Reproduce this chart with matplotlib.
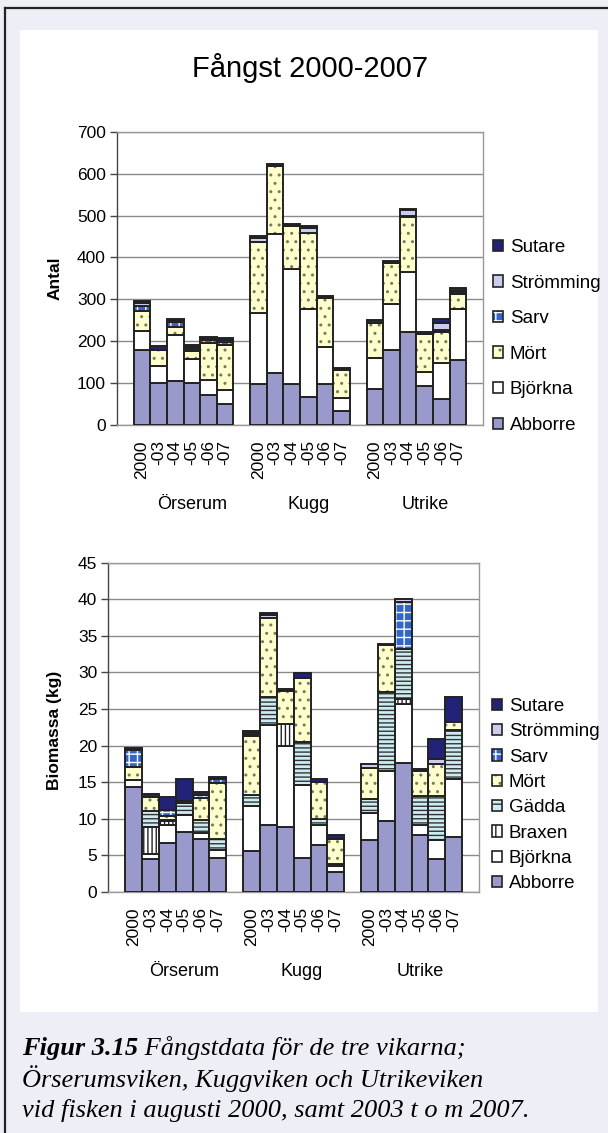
import numpy as np
import matplotlib
matplotlib.use('Agg')
import matplotlib.pyplot as plt
from matplotlib.patches import Patch, Rectangle
from matplotlib.lines import Line2D

plt.rcParams['font.family'] = ['Liberation Sans', 'DejaVu Sans']

sites = ['Örserum', 'Kugg', 'Utrike']
years = ['2000', '-03', '-04', '-05', '-06', '-07']

# Antal -- order: Örserum, Kugg, Utrike; each 2000, -03 .. -07
antal_abborre = [180, 101, 106, 101, 72, 50, 98, 125, 99, 67, 99, 34, 86, 180, 222, 93, 63, 155]
antal_bjorkna = [44, 40, 108, 57, 35, 33, 170, 330, 274, 210, 86, 30, 75, 108, 144, 34, 85, 123]
antal_mort = [48, 39, 19, 18, 89, 108, 168, 162, 101, 181, 117, 67, 83, 99, 130, 91, 73, 34]
antal_sarv = [12, 0, 14, 6, 7, 6, 0, 0, 0, 0, 0, 0, 0, 0, 3, 0, 5, 3]
antal_stromming = [6, 0, 2, 3, 3, 5, 10, 0, 0, 11, 0, 0, 0, 0, 14, 0, 18, 6]
antal_sutare = [6, 8, 4, 5, 4, 6, 5, 5, 5, 5, 5, 4, 6, 5, 3, 4, 8, 6]

# Biomassa (kg)
bio_abborre = [14.3, 4.5, 6.7, 8.2, 7.3, 4.6, 5.6, 9.2, 8.9, 4.6, 6.4, 2.8, 7.1, 9.75, 17.65, 7.8, 4.45, 7.55]
bio_bjorkna = [1.0, 0.7, 2.4, 2.3, 0.8, 1.2, 6.1, 13.6, 11.0, 10.0, 2.75, 0.8, 3.65, 6.85, 8.05, 1.3, 2.65, 7.95]
bio_braxen = [0, 3.7, 0.6, 0, 0, 0, 0, 0, 3.1, 0, 0, 0, 0, 0, 0.7, 0, 0, 0]
bio_gadda = [0, 2.2, 0.2, 1.6, 1.7, 1.4, 1.5, 3.9, 0, 5.9, 0.85, 0.2, 1.95, 10.7, 6.8, 4.0, 6.0, 6.7]
bio_mort = [1.8, 1.9, 0.5, 0, 3.1, 7.7, 8.1, 10.8, 4.5, 8.7, 5.1, 3.5, 4.3, 6.4, 0, 3.5, 4.4, 1.0]
bio_sarv = [2.3, 0, 0.8, 0, 0.4, 0.5, 0.3, 0, 0, 0, 0, 0, 0, 0, 6.45, 0, 0, 0]
bio_stromming = [0, 0, 0, 0.3, 0, 0, 0.3, 0.3, 0, 0, 0, 0, 0.5, 0, 0.35, 0, 0.7, 0]
bio_sutare = [0.3, 0.4, 1.8, 3.1, 0.3, 0.3, 0.1, 0.3, 0.3, 0.7, 0.4, 0.45, 0, 0.2, 0, 0.2, 2.7, 3.5]

W, H = 608, 1133
EDGE = '#222222'
LW = 1.4

# fill colour, hatch, hatch colour
styles = {
    'Abborre': dict(fc='#9999CC', hatch=None, hc=None),
    'Björkna': dict(fc='white', hatch=None, hc=None),
    'Braxen': dict(fc='white', hatch='||||', hc='#222222'),
    'Gädda': dict(fc='#CCECF2', hatch='----', hc='#333333'),
    'Mört': dict(fc='#FFFFCC', hatch='..', hc='#777766'),
    'Sarv': dict(fc='#3366CC', hatch='++', hc='white'),
    'Strömming': dict(fc='#CCCCEE', hatch=None, hc=None),
    'Sutare': dict(fc='#222277', hatch=None, hc=None),
}

xpos = np.array([g * 7 + j + 1.5 for g in range(3) for j in range(6)])


def fx(px):
    return px / W


def fy(py):
    return 1 - py / H


def draw_stack(ax, layers):
    bottom = np.zeros(len(xpos))
    for name, vals in layers:
        vals = np.array(vals, float)
        m = vals > 0
        st = styles[name]
        if st['hatch']:
            # fill + hatch in its own colour, outline drawn on top
            ax.bar(xpos[m], vals[m], 1.0, bottom=bottom[m], color=st['fc'],
                   edgecolor=st['hc'], linewidth=0, hatch=st['hatch'], zorder=3)
            ax.bar(xpos[m], vals[m], 1.0, bottom=bottom[m], facecolor='none',
                   edgecolor=EDGE, linewidth=LW, zorder=3)
        else:
            ax.bar(xpos[m], vals[m], 1.0, bottom=bottom[m], color=st['fc'],
                   edgecolor=EDGE, linewidth=LW, zorder=3)
        bottom += vals


def legend_handle(name):
    st = styles[name]
    if st['hatch']:
        return (Patch(facecolor=st['fc'], edgecolor=st['hc'], linewidth=0, hatch=st['hatch'][:2]),
                Patch(facecolor='none', edgecolor=EDGE, linewidth=1.2))
    return Patch(facecolor=st['fc'], edgecolor=EDGE, linewidth=1.2)


def style_axes(ax, ymax, ystep, label_y):
    ax.set_xlim(0, 22)
    ax.set_ylim(0, ymax)
    ax.set_yticks(np.arange(0, ymax + ystep, ystep))
    ax.set_xticks(xpos)
    ax.set_xticklabels(years * 3, rotation=90, fontsize=12.5)
    ax.tick_params(axis='x', length=0, pad=11)
    ax.tick_params(axis='y', length=5, width=1, color='#444444', labelsize=12.5, pad=3)
    ax.grid(axis='y', color='#8a8a8a', linewidth=1, zorder=0)
    ax.set_axisbelow(True)
    for s in ['top', 'right', 'bottom']:
        ax.spines[s].set_color('#999999')
        ax.spines[s].set_linewidth(1)
    ax.spines['left'].set_color('#444444')
    ax.spines['left'].set_linewidth(1)
    for g, site in enumerate(sites):
        ax.text(g * 7 + 4.5, label_y, site, transform=ax.get_xaxis_transform(),
                ha='center', va='center', fontsize=13)


fig = plt.figure(figsize=(W / 100, H / 100), dpi=100)
fig.patch.set_facecolor('#EEEEF6')

# white panel and the dark frame
fig.add_artist(Rectangle((fx(20), fy(1012)), fx(598) - fx(20), fy(30) - fy(1012),
                         transform=fig.transFigure, facecolor='white', edgecolor='none', zorder=0))
fig.add_artist(Line2D([fx(5), fx(5)], [fy(8), 0], transform=fig.transFigure, color='#222222', lw=1.6))
fig.add_artist(Line2D([fx(5), 1], [fy(8), fy(8)], transform=fig.transFigure, color='#222222', lw=1.6))

fig.text(fx(310), fy(68), 'Fångst 2000-2007', ha='center', va='center', fontsize=21)

# top chart: number of fish
ax1 = fig.add_axes([fx(117), fy(425), fx(483) - fx(117), fy(131.7) - fy(425)])
draw_stack(ax1, [('Abborre', antal_abborre), ('Björkna', antal_bjorkna), ('Mört', antal_mort),
                 ('Sarv', antal_sarv), ('Strömming', antal_stromming), ('Sutare', antal_sutare)])
style_axes(ax1, 700, 100, -0.272)
fig.text(fx(55), fy(278), 'Antal', rotation=90, ha='center', va='center', fontsize=12.5, weight='bold')

names1 = ['Sutare', 'Strömming', 'Sarv', 'Mört', 'Björkna', 'Abborre']
fig.legend([legend_handle(n) for n in names1], names1, loc='upper left',
           bbox_to_anchor=(fx(493), fy(239)), frameon=False, fontsize=13.5,
           handlelength=0.55, handleheight=0.55, handletextpad=0.35,
           labelspacing=0.99, borderpad=0, borderaxespad=0)

# bottom chart: biomass
ax2 = fig.add_axes([fx(108.4), fy(892), fx(479) - fx(108.4), fy(562.7) - fy(892)])
draw_stack(ax2, [('Abborre', bio_abborre), ('Björkna', bio_bjorkna), ('Braxen', bio_braxen),
                 ('Gädda', bio_gadda), ('Mört', bio_mort), ('Sarv', bio_sarv),
                 ('Strömming', bio_stromming), ('Sutare', bio_sutare)])
style_axes(ax2, 45, 5, -0.24)
fig.text(fx(55), fy(730), 'Biomassa (kg)', rotation=90, ha='center', va='center', fontsize=12.5, weight='bold')

names2 = ['Sutare', 'Strömming', 'Sarv', 'Mört', 'Gädda', 'Braxen', 'Björkna', 'Abborre']
fig.legend([legend_handle(n) for n in names2], names2, loc='upper left',
           bbox_to_anchor=(fx(492), fy(698)), frameon=False, fontsize=13.5,
           handlelength=0.55, handleheight=0.55, handletextpad=0.35,
           labelspacing=0.445, borderpad=0, borderaxespad=0)

# caption
cap = dict(family=['Liberation Serif', 'DejaVu Serif'], style='italic', fontsize=19)
t1 = fig.text(fx(22), fy(1048), 'Figur 3.15', weight='bold', va='center', **cap)
ax2.annotate(' Fångstdata för de tre vikarna;', xy=(1, 0), xycoords=t1, va='bottom',
             ha='left', annotation_clip=False, **cap)
fig.text(fx(22), fy(1079), 'Örserumsviken, Kuggviken och Utrikeviken', va='center', **cap)
fig.text(fx(22), fy(1110), 'vid fisken i augusti 2000, samt 2003 t o m 2007.', va='center', **cap)

fig.savefig('out.png', dpi=100, facecolor=fig.get_facecolor())
